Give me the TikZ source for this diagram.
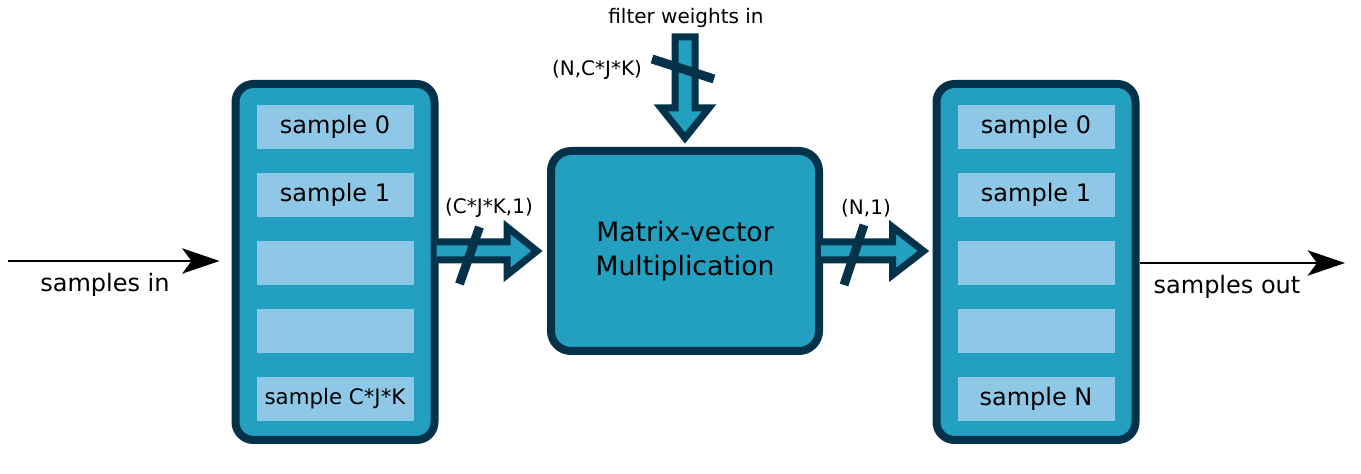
\documentclass[tikz,border=0pt]{standalone}
\usepackage{fontspec}
\setmainfont{DejaVu Sans}
\usetikzlibrary{arrows.meta, calc, positioning}
\definecolor{bufteal}{RGB}{35,159,191}
\definecolor{bufdark}{RGB}{4,50,74}
\definecolor{slotblue}{RGB}{142,200,230}
\newcommand{\pxu}{0.75pt}
\newcommand{\bigtxt}{\fontsize{18}{25.5}\selectfont}
\newcommand{\mvmtxt}{\fontsize{20}{25.5}\selectfont}
\newcommand{\smalltxt}{\fontsize{15}{18}\selectfont}
\newcommand{\slotsmall}{\fontsize{16}{19}\selectfont}

\begin{document}
\begin{tikzpicture}[x=\pxu, y=\pxu,
  buffer/.style={draw=bufdark, fill=bufteal, line width=8*\pxu, outer sep=0pt,
    rounded corners=18*\pxu, minimum width=199*\pxu, minimum height=356*\pxu},
  slot/.style={fill=slotblue, minimum width=157*\pxu, minimum height=44*\pxu,
    inner sep=0pt, font=\bigtxt},
  mvmbox/.style={draw=bufdark, fill=bufteal, line width=8*\pxu, outer sep=0pt,
    rounded corners=20*\pxu, minimum width=268*\pxu, minimum height=200*\pxu,
    align=center, font=\mvmtxt},
  bus/.style={draw=bufdark, fill=bufteal, line width=7*\pxu, miter limit=10},
  slash/.style={draw=bufdark, line width=9*\pxu},
  flow/.style={line width=1.5pt, -{Stealth[length=28pt, width=19pt, inset=7pt]}},
  lbl/.style={font=\smalltxt, inner sep=1pt},
  biglbl/.style={font=\bigtxt, inner sep=1pt}]
        \useasboundingbox (0,0) rectangle (1361,474);
        % buffers
        \node[buffer] (leftbuf) at (335,212) {};
        \foreach \i/\t in {0/sample 0, 1/sample 1, 2/, 3/, 4/\slotsmall sample C*J*K}
          \node[slot] (lslot\i) at ($(leftbuf.north)+(0,-43-68*\i)$) {\t};
        \node[buffer] (rightbuf) at (1036,212) {};
        \foreach \i/\t in {0/sample 0, 1/sample 1, 2/, 3/, 4/sample N}
          \node[slot] (rslot\i) at ($(rightbuf.north)+(0,-43-68*\i)$) {\t};
        \node[mvmbox] (mvm) at (685,223) {Matrix-vector\\Multiplication};
        % bus arrows
        \coordinate (lstart) at ($(leftbuf.east |- mvm.west)+(2,0)$);
        \coordinate (ltip) at ($(mvm.west)+(-14,0)$);
        \draw[bus] ($(lstart)+(0,9)$) -- ($(ltip)+(-30,9)$) -- ++(0,15) -- (ltip)
          -- ($(ltip)+(-30,-24)$) -- ++(0,15) -- ($(lstart)+(0,-9)$);
        \draw[slash] ($(lstart)+(43,24)$) -- ($(lstart)+(23,-33)$);
        \coordinate (rstart) at ($(mvm.east)+(2,0)$);
        \coordinate (rtip) at ($(rightbuf.west |- mvm.east)+(-13,0)$);
        \draw[bus] ($(rstart)+(0,9)$) -- ($(rtip)+(-31,9)$) -- ++(0,15) -- (rtip)
          -- ($(rtip)+(-31,-24)$) -- ++(0,15) -- ($(rstart)+(0,-9)$);
        \draw[slash] ($(rstart)+(43,26)$) -- ($(rstart)+(23,-34)$);
        \coordinate (ttip) at ($(mvm.north)+(0,13)$);
        \draw[bus] ($(ttip)+(-10,30)$) -- ($(ttip)+(-10,101)$) -- ++(20,0)
          -- ($(ttip)+(10,30)$) -- ++(14,0) -- (ttip) -- ($(ttip)+(-24,30)$) -- cycle;
        \draw[slash] ($(ttip)+(-33,79)$) -- ($(ttip)+(29,59)$);
        % labels
        \node[lbl] (lshape) at (489,266) {(C*J*K,1)};
        \node[lbl] (rshape) at (866,266) {(N,1)};
        \node[lbl] (tshape) at (597,404) {(N,C*J*K)};
        \node[lbl] (wlabel) at (686,456) {filter weights in};
        % in / out
        \coordinate (inpt) at (8,213);
        \coordinate (outpt) at (1345,211);
        \draw[flow, shorten >=12pt] (inpt) -- (inpt -| leftbuf.west);
        \draw[flow, shorten <=3pt] (rightbuf.east |- outpt) -- (outpt);
        \node[biglbl] (inlabel) at (105,189) {samples in};
        \node[biglbl] (outlabel) at (1227,187) {samples out};
      \end{tikzpicture}
\end{document}
